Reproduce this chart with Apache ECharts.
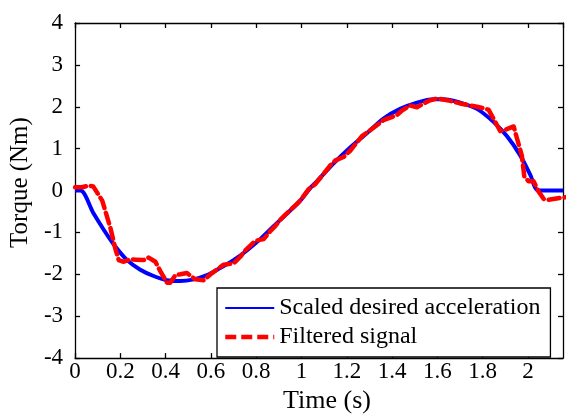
<!DOCTYPE html>
<html><head><meta charset="utf-8">
<script src="https://cdn.jsdelivr.net/npm/echarts@6/dist/echarts.min.js"></script>
<style>html,body{margin:0;padding:0;background:#fff}#c{width:568px;height:419px}</style>
</head><body><div id="c"></div>
<script>
// Scaled desired acceleration (blue)
const blueT = [0, 0.024, 0.082, 0.126, 0.17, 0.23, 0.288, 0.347, 0.406, 0.465, 0.524, 0.583, 0.641, 0.70, 0.759, 0.818, 0.877, 0.936, 0.995, 1.04, 1.068, 1.142, 1.215, 1.289, 1.362, 1.436, 1.51, 1.583, 1.627, 1.70, 1.775, 1.848, 1.907, 1.966, 2.01, 2.047, 2.155];
const blueY = [0, 0, -0.55, -0.93, -1.28, -1.66, -1.89, -2.04, -2.14, -2.16, -2.12, -2.02, -1.85, -1.66, -1.43, -1.16, -0.85, -0.55, -0.24, 0.07, 0.22, 0.65, 1.03, 1.37, 1.72, 1.95, 2.10, 2.18, 2.18, 2.10, 1.95, 1.64, 1.30, 0.84, 0.38, 0, 0];
// Filtered signal (red)
const redT = [0, 0.03, 0.06, 0.08, 0.12, 0.156, 0.178, 0.193, 0.215, 0.244, 0.27, 0.303, 0.325, 0.355, 0.377, 0.406, 0.42, 0.443, 0.465, 0.494, 0.531, 0.568, 0.605, 0.656, 0.70, 0.73, 0.752, 0.796, 0.833, 0.862, 0.884, 0.906, 0.928, 0.98, 1.00, 1.031, 1.06, 1.083, 1.127, 1.15, 1.186, 1.215, 1.267, 1.311, 1.362, 1.421, 1.444, 1.48, 1.51, 1.561, 1.598, 1.657, 1.70, 1.775, 1.80, 1.826, 1.878, 1.90, 1.937, 1.973, 1.984, 2.003, 2.025, 2.047, 2.07, 2.09, 2.165];
const redY = [0.08, 0.08, 0.12, 0.10, -0.24, -0.89, -1.39, -1.66, -1.70, -1.64, -1.65, -1.66, -1.60, -1.70, -1.93, -2.20, -2.20, -2.02, -2.00, -1.97, -2.12, -2.14, -1.97, -1.77, -1.74, -1.58, -1.43, -1.20, -1.16, -0.97, -0.85, -0.70, -0.58, -0.32, -0.20, 0.03, 0.15, 0.30, 0.60, 0.72, 0.80, 0.95, 1.30, 1.47, 1.68, 1.80, 1.91, 2.03, 1.99, 2.14, 2.20, 2.14, 2.08, 2.00, 1.97, 1.93, 1.42, 1.45, 1.53, 0.84, 0.34, 0.22, 0.22, -0.02, -0.20, -0.22, -0.16];
const seriesNames = ['Scaled desired acceleration', 'Filtered signal'];
const xLabel = 'Time (s)';
const yLabel = 'Torque (Nm)';

const FONT = 'Liberation Serif';
const zip = (a, b) => a.map((v, i) => [v, b[i]]);
const axisLineStyle = { color: '#000', width: 1.3 };
const chart = echarts.init(document.getElementById('c'), null, { renderer: 'canvas' });
chart.setOption({
  animation: false,
  backgroundColor: '#fff',
  textStyle: { fontFamily: FONT, color: '#000' },
  grid: { left: 75, right: 5, top: 23, bottom: 49, containLabel: false },
  xAxis: [{
    type: 'value', min: 0, max: 2.155, interval: 0.2,
    name: xLabel, nameLocation: 'middle', nameGap: 12,
    nameTextStyle: { fontFamily: FONT, fontSize: 26, color: '#000', padding: [0, 0, 0, 16] },
    axisLine: { show: true, onZero: false, lineStyle: axisLineStyle },
    axisTick: { show: true, inside: true, length: 5, lineStyle: axisLineStyle },
    axisLabel: { fontFamily: FONT, fontSize: 23, color: '#000', margin: 2, showMaxLabel: false },
    splitLine: { show: false }
  }, {
    type: 'value', min: 0, max: 2.155, interval: 0.2, position: 'top',
    axisLine: { show: true, onZero: false, lineStyle: axisLineStyle },
    axisTick: { show: true, inside: true, length: 5, lineStyle: axisLineStyle },
    axisLabel: { show: false }, splitLine: { show: false }
  }],
  yAxis: [{
    type: 'value', min: -4, max: 4, interval: 1,
    name: yLabel, nameLocation: 'middle', nameGap: 36,
    nameTextStyle: { fontFamily: FONT, fontSize: 25, color: '#000', padding: [0, 0, 0, 16] },
    axisLine: { show: true, onZero: false, lineStyle: axisLineStyle },
    axisTick: { show: true, inside: true, length: 5, lineStyle: axisLineStyle },
    axisLabel: { fontFamily: FONT, fontSize: 23, color: '#000', margin: 12 },
    splitLine: { show: false }
  }, {
    type: 'value', min: -4, max: 4, interval: 1, position: 'right',
    axisLine: { show: true, onZero: false, lineStyle: axisLineStyle },
    axisTick: { show: true, inside: true, length: 5, lineStyle: axisLineStyle },
    axisLabel: { show: false }, splitLine: { show: false }
  }],
  legend: {
    orient: 'vertical', left: 217, top: 288,
    backgroundColor: '#fff', borderColor: '#000', borderWidth: 1.3, borderRadius: 0,
    padding: [8, 10, 8, 6],
    itemWidth: 49, itemHeight: 24, itemGap: 5,
    textStyle: { fontFamily: FONT, fontSize: 24, color: '#000' },
    data: [
      { name: seriesNames[0], itemStyle: { opacity: 0 }, lineStyle: { width: 1.8, color: '#0000ff' } },
      { name: seriesNames[1], itemStyle: { opacity: 0 }, lineStyle: { width: 4.5, color: '#ff0000', type: [11, 5], cap: 'butt' } }
    ]
  },
  series: [{
    name: seriesNames[0], type: 'line', data: zip(blueT, blueY), smooth: 0.3,
    showSymbol: false, symbol: 'none', clip: true,
    lineStyle: { color: '#0000ff', width: 4 }, itemStyle: { color: '#0000ff' }
  }, {
    name: seriesNames[1], type: 'line', data: zip(redT, redY),
    showSymbol: false, symbol: 'none', clip: true,
    lineStyle: { color: '#ff0000', width: 4.5, type: [11, 5], cap: 'round', join: 'round' }, itemStyle: { color: '#ff0000' }
  }]
});
</script></body></html>
